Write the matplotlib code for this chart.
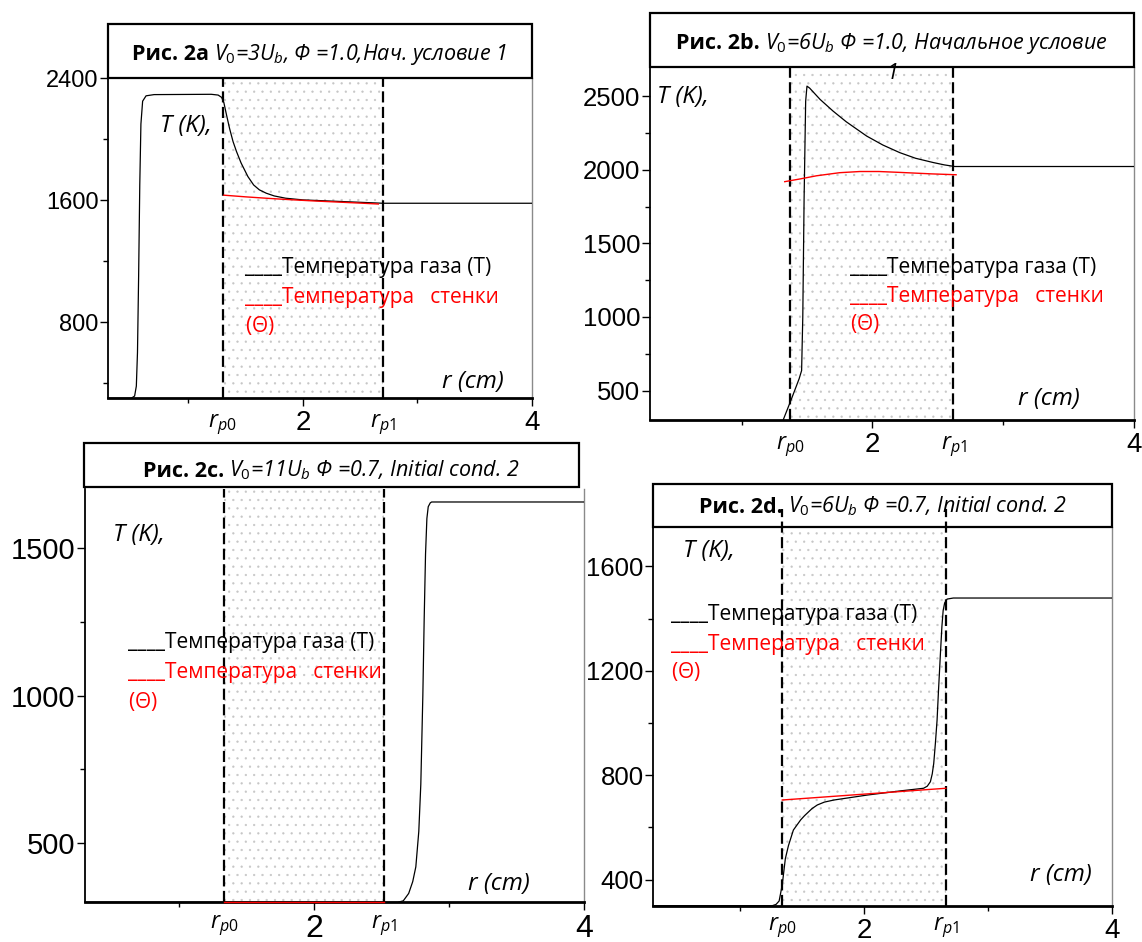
import matplotlib
matplotlib.use("Agg")
import matplotlib.pyplot as plt
from matplotlib.patches import Rectangle
from matplotlib.ticker import MultipleLocator

plt.rcParams['font.family'] = ['Liberation Sans', 'DejaVu Sans']
plt.rcParams['mathtext.fontset'] = 'custom'
plt.rcParams['mathtext.it'] = 'Open Sans:italic'
plt.rcParams['mathtext.rm'] = 'Open Sans'
plt.rcParams['mathtext.bf'] = 'Open Sans:bold'
plt.rcParams['hatch.linewidth'] = 0.4

W, H = 1142, 942
SANS = ['Open Sans', 'DejaVu Sans']

# ---- data ----
a_r_gas = [0.30, 0.50, 0.53, 0.545, 0.555, 0.565, 0.575, 0.585, 0.60, 0.63, 0.70, 1.20,
           1.26, 1.29, 1.31, 1.33, 1.36, 1.39, 1.42, 1.46, 1.52, 1.57, 1.62, 1.68,
           1.75, 1.85, 2.00, 2.35, 2.70, 4.00]
a_T_gas = [300, 300, 315, 380, 600, 1100, 1700, 2100, 2250, 2285, 2293, 2295,
           2290, 2275, 2240, 2170, 2070, 1985, 1920, 1845, 1755, 1700, 1668, 1646,
           1628, 1613, 1602, 1591, 1580, 1580]
a_r_wall = [1.31, 1.50, 1.70, 1.90, 2.10, 2.30, 2.50, 2.66]
a_T_wall = [1633, 1622, 1612, 1603, 1595, 1588, 1581, 1575]

b_r_gas = [1.318, 1.38, 1.44, 1.459, 1.468, 1.478, 1.49, 1.50, 1.52, 1.60, 1.70, 1.80,
           1.956, 2.08, 2.21, 2.33, 2.465, 2.55, 2.63, 4.00]
b_T_gas = [300, 440, 580, 636, 1000, 1800, 2466, 2568, 2555, 2478, 2398, 2326,
           2229, 2168, 2116, 2078, 2049, 2033, 2022, 2022]
b_r_wall = [1.33, 1.45, 1.573, 1.75, 1.905, 2.05, 2.21, 2.45, 2.64]
b_T_wall = [1919, 1938, 1959, 1980, 1988, 1988, 1982, 1972, 1966]

c_r_gas = [0.30, 2.62, 2.66, 2.70, 2.73, 2.753, 2.775, 2.79, 2.805, 2.815, 2.825,
           2.835, 2.845, 2.86, 2.87, 4.00]
c_T_gas = [300, 300, 305, 330, 370, 420, 540, 700, 1000, 1260, 1480,
           1600, 1640, 1653, 1656, 1656]
c_r_wall = [1.33, 2.52]
c_T_wall = [300, 300]

d_r_gas = [0.30, 1.26, 1.29, 1.315, 1.34, 1.365, 1.39, 1.43, 1.489, 1.52, 1.58, 1.623,
           1.68, 1.757, 2.026, 2.294, 2.48, 2.51, 2.535, 2.55, 2.562, 2.575, 2.589,
           2.60, 2.616, 2.628, 2.638, 2.65, 2.67, 2.72, 4.00]
d_T_gas = [300, 300, 305, 318, 380, 480, 530, 590, 629, 645, 672, 686,
           697, 705, 724, 740, 750, 758, 775, 805, 845, 920, 1011,
           1120, 1266, 1370, 1431, 1460, 1475, 1479, 1479]
d_r_wall = [1.34, 2.66]
d_T_wall = [705, 750]

gas_r = [a_r_gas, b_r_gas, c_r_gas, d_r_gas]
gas_T = [a_T_gas, b_T_gas, c_T_gas, d_T_gas]
wall_r = [a_r_wall, b_r_wall, c_r_wall, d_r_wall]
wall_T = [a_T_wall, b_T_wall, c_T_wall, d_T_wall]

r_p0 = [1.30, 1.37, 1.33, 1.34]
r_p1 = [2.70, 2.62, 2.52, 2.66]
y_lims = [(300, 2400), (300, 2700), (300, 1700), (300, 1750)]
y_major = [800, 500, 500, 400]
y_minor = [400, 250, 250, 200]
dash_top = [2400, 2700, 1700, 1820]

title_bold = ['Рис. 2a', 'Рис. 2b.', 'Рис. 2c.', 'Рис. 2d.']
title_it = [r'$V_\mathit{0}$=3$U_b$, Φ =1.0,Нач. условие 1',
            r'$V_\mathit{0}$=6$U_b$ Φ =1.0, Начальное условие',
            r'$V_\mathit{0}$=11$U_b$ Φ =0.7, Initial cond. 2',
            r'$V_\mathit{0}$=6$U_b$ Φ =0.7, Initial cond. 2']
gas_label = '____Температура газа (T)'
wall_label = '____Температура   стенки'

# ---- layout (pixels) ----
ax_px = [(108.3, 78.3, 531.7, 398.3), (650, 66.7, 1134, 420),
         (85, 489, 584, 902.3), (653.3, 527.3, 1112, 905.7)]
box_px = [(108.3, 24, 531.7, 78.3), (650, 13.3, 1133.5, 66.7),
          (84, 442.7, 579.3, 487.3), (653.3, 484, 1112, 527.3)]
title_base = [60, 49.3, 476.7, 512.7]
ytick_size = [17, 18.5, 21, 18.5]
xtick_size = [20, 20, 23, 20]
rp_offset = [-29, -29, -26, -24]
tk_pos = [(0.122, 0.833), (0.014, 0.897), (0.057, 0.875), (0.065, 0.922)]
leg_pos = [(0.323, 0.392, 0.298, 0.207), (0.413, 0.416, 0.333, 0.255),
           (0.087, 0.615, 0.542, 0.469), (0.039, 0.755, 0.676, 0.601)]
rcm_pos = [(0.787, 0.032), (0.76, 0.042), (0.768, 0.03), (0.821, 0.064)]

fig = plt.figure(figsize=(W / 100, H / 100), dpi=100)
fig.patch.set_facecolor('white')

title_pairs = []
for i in range(4):
    l, t, r, b = ax_px[i]
    ax = fig.add_axes([l / W, 1 - b / H, (r - l) / W, (b - t) / H])
    ax.set_xlim(0.3, 4.0)
    ax.set_ylim(*y_lims[i])

    # porous zone: dotted fill and dashed borders
    ax.axvspan(r_p0[i], r_p1[i], facecolor='none', edgecolor='#c6c6c6',
               hatch='..', linewidth=0, zorder=0)
    top_frac = (dash_top[i] - y_lims[i][0]) / (y_lims[i][1] - y_lims[i][0])
    for xv in (r_p0[i], r_p1[i]):
        ax.axvline(xv, ymin=0, ymax=top_frac, color='black', lw=1.6,
                   ls=(0, (5, 2)), clip_on=False, zorder=2)

    ax.plot(gas_r[i], gas_T[i], color='black', lw=0.9, zorder=3)
    ax.plot(wall_r[i], wall_T[i], color='red', lw=1.0, zorder=3, clip_on=False)

    ax.set_xticks([2, 4])
    ax.xaxis.set_minor_locator(MultipleLocator(1))
    ax.yaxis.set_minor_locator(MultipleLocator(y_minor[i]))
    ax.set_yticks([v for v in range(0, y_lims[i][1] + 1, y_major[i]) if v >= y_lims[i][0]])
    ax.tick_params(axis='both', which='major', direction='out', length=6, width=1)
    ax.tick_params(axis='both', which='minor', direction='out', length=3.5, width=1)
    ax.tick_params(axis='y', labelsize=ytick_size[i], pad=1)
    ax.tick_params(axis='x', labelsize=xtick_size[i], pad=2.5)

    ax.spines['top'].set_visible(False)
    ax.spines['right'].set_color('#8a8a8a')
    ax.spines['right'].set_linewidth(1.0)
    ax.spines['left'].set_linewidth(1.3)
    ax.spines['bottom'].set_linewidth(2.0)

    for xv, sub in ((r_p0[i], r'$r_{p\mathit{0}}$'), (r_p1[i], r'$r_{p\mathit{1}}$')):
        ax.annotate(sub, xy=(xv, 0), xycoords=('data', 'axes fraction'),
                    xytext=(0, rp_offset[i]), textcoords='offset pixels',
                    ha='center', va='baseline', fontsize=16.5, annotation_clip=False)

    ax.text(tk_pos[i][0], tk_pos[i][1], 'T (K),', transform=ax.transAxes,
            family=SANS, style='italic', fontsize=17.5, va='baseline')
    lx, y1, y2, y3 = leg_pos[i]
    ax.text(lx, y1, gas_label, transform=ax.transAxes, family=SANS,
            fontsize=15, color='black', va='baseline')
    ax.text(lx, y2, wall_label, transform=ax.transAxes, family=SANS,
            fontsize=15, color='red', va='baseline')
    ax.text(lx, y3, r'($\mathit{\Theta}$)', transform=ax.transAxes, family=SANS,
            fontsize=15, color='red', va='baseline')
    ax.text(rcm_pos[i][0], rcm_pos[i][1], 'r (cm)', transform=ax.transAxes,
            family=SANS, style='italic', fontsize=17.5, va='baseline')

    # title box above the plot
    bl, bt, br, bb = box_px[i]
    fig.add_artist(Rectangle((bl / W, 1 - bb / H), (br - bl) / W, (bb - bt) / H,
                             transform=fig.transFigure, fill=False,
                             edgecolor='black', lw=1.6, zorder=1))
    t1 = fig.text(0, 1 - title_base[i] / H, title_bold[i], family=SANS,
                  weight='bold', fontsize=15.5, va='baseline')
    t2 = fig.text(0, 1 - title_base[i] / H, title_it[i], family=SANS,
                  style='italic', fontsize=15.5, va='baseline')
    title_pairs.append((t1, t2, (bl + br) / 2))

# wrapped last character of the 2b heading
fig.text(892.7 / W, 1 - 79 / H, '1', family=SANS, style='italic',
         fontsize=15.5, ha='center', va='baseline')

renderer = fig.canvas.get_renderer()
for t1, t2, cx in title_pairs:
    w1 = t1.get_window_extent(renderer).width
    w2 = t2.get_window_extent(renderer).width
    gap = 5
    x0 = cx - (w1 + gap + w2) / 2
    t1.set_x(x0 / W)
    t2.set_x((x0 + w1 + gap) / W)

fig.savefig('out.png', dpi=100, facecolor='white')
